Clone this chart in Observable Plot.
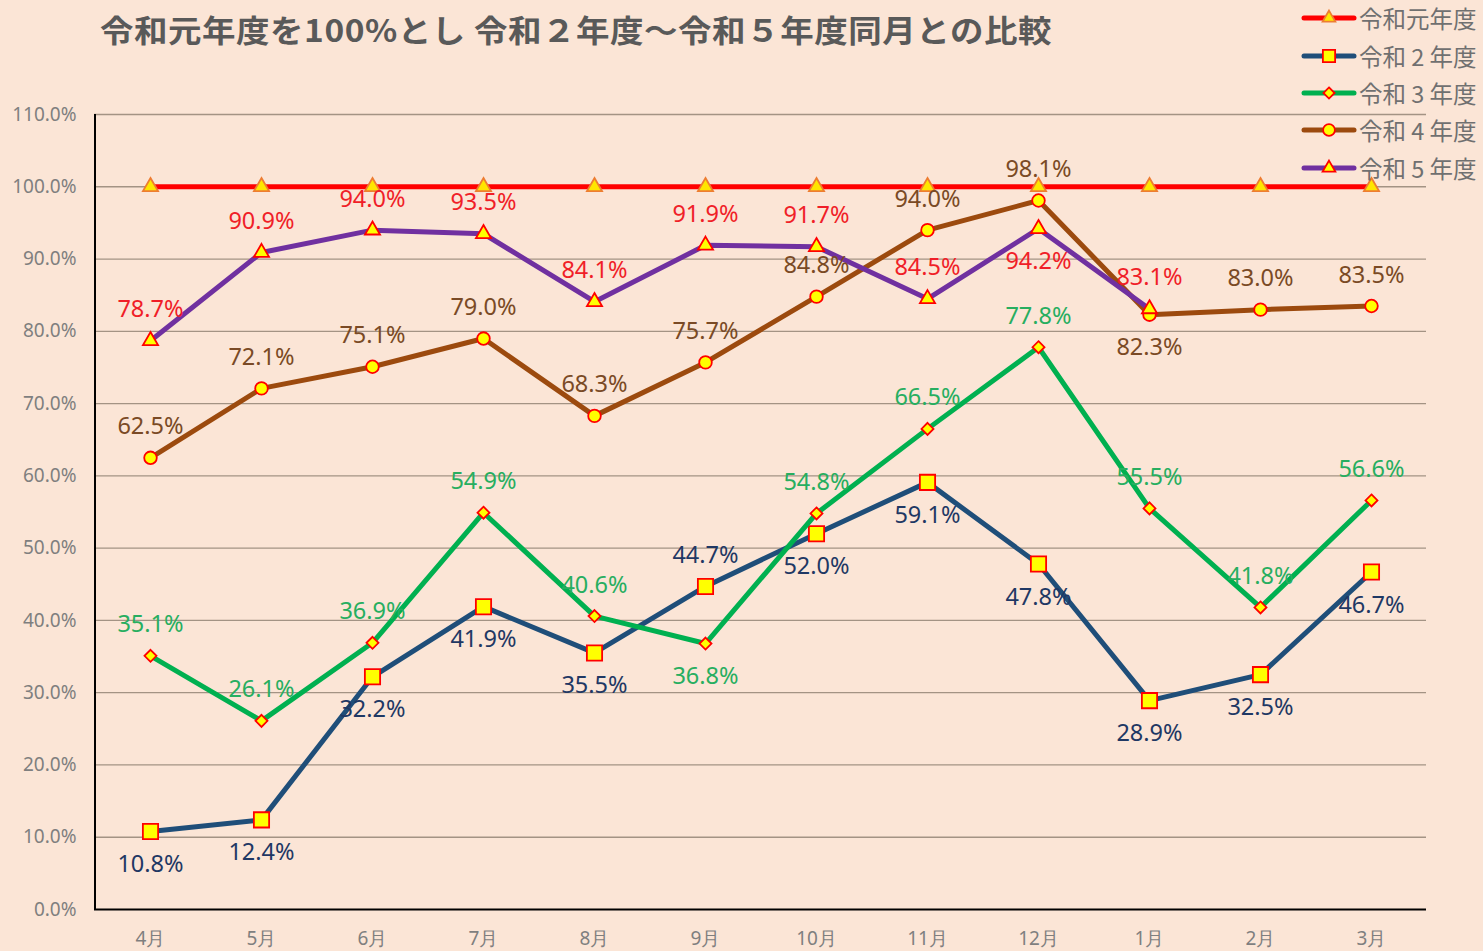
<!DOCTYPE html>
<html>
<head>
<meta charset="utf-8">
<script src="https://cdn.jsdelivr.net/npm/d3@7"></script>
<script src="https://cdn.jsdelivr.net/npm/@observablehq/plot@0.6"></script>
<style>
  html, body { margin: 0; padding: 0; background: #FBE5D6; }
  #wrap { position: relative; width: 1483px; height: 951px; overflow: hidden; }
  #chart { position: absolute; left: 0; top: 0; }
  #title { position: absolute; left: 100px; top: 6px; font-family: "Noto Sans CJK JP", sans-serif; font-weight: bold; font-size: 31px; color: #595959; white-space: pre; transform-origin: left top; transform: scaleX(1.08); letter-spacing: 0.5px; }
  #legend { position: absolute; left: 1300px; top: 0px; font-family: "Noto Sans CJK JP", "Noto Sans", sans-serif; font-size: 23.5px; color: #707070; }
  .item { position: absolute; left: 0; height: 30px; display: flex; align-items: center; white-space: pre; }
  .item svg { margin-right: 1px; }
</style>
</head>
<body>
<div id="wrap">
  <div id="chart"></div>
  <div id="title"></div>
  <div id="legend"></div>
</div>
<script>
// ---- data ----
const months = ["4月","5月","6月","7月","8月","9月","10月","11月","12月","1月","2月","3月"];
const seriesNames = ["令和元年度","令和２年度","令和３年度","令和４年度","令和５年度"];
const legendLabels = ["令和元年度","令和 2 年度","令和 3 年度","令和 4 年度","令和 5 年度"];
const r1 = [100, 100, 100, 100, 100, 100, 100, 100, 100, 100, 100, 100];
const r2 = [10.8, 12.4, 32.2, 41.9, 35.5, 44.7, 52.0, 59.1, 47.8, 28.9, 32.5, 46.7];
const r3 = [35.1, 26.1, 36.9, 54.9, 40.6, 36.8, 54.8, 66.5, 77.8, 55.5, 41.8, 56.6];
const r4 = [62.5, 72.1, 75.1, 79.0, 68.3, 75.7, 84.8, 94.0, 98.1, 82.3, 83.0, 83.5];
const r5 = [78.7, 90.9, 94.0, 93.5, 84.1, 91.9, 91.7, 84.5, 94.2, 83.1];
const yTicks = [0, 10, 20, 30, 40, 50, 60, 70, 80, 90, 100, 110];

// ---- styles ----
const styles = [
  {line: "#FF0000", symbol: "triangle", r: 5.6, mfill: "#FFE600", mstroke: "#ED7D31", label: null, labelSide: null, flip: []},
  {line: "#1F4E79", symbol: "square", r: 8.6, mfill: "#FFFF00", mstroke: "#FF0000", label: "#1F3864", labelSide: 1, flip: [5]},
  {line: "#00B050", symbol: "diamond2", r: 5.4, mfill: "#FFFF00", mstroke: "#FF0000", label: "#27AE60", labelSide: -1, flip: [5]},
  {line: "#9C4A0E", symbol: "circle", r: 6.3, mfill: "#FFFF00", mstroke: "#FF0000", label: "#7A4A25", labelSide: -1, flip: [9]},
  {line: "#7030A0", symbol: "triangle", r: 5.6, mfill: "#FFFF00", mstroke: "#FF0000", label: "#F01E28", labelSide: -1, flip: [8]}
];
const allValues = [r1, r2, r3, r4, r5];

const W = 1483, H = 951;
const mL = 94, mR = 57, mT = 114, mB = 42;
const step = (W - mL - mR) / months.length;

const marks = [];
// gridlines
marks.push(Plot.ruleY(yTicks.filter(d => d > 0), {stroke: "#A39384", strokeWidth: 1.3}));
// axis lines
marks.push(Plot.ruleY([0], {stroke: "#000", strokeWidth: 2}));
marks.push(Plot.ruleX([months[0]], {dx: -step / 2, stroke: "#000", strokeWidth: 2}));

const labelData = [];
allValues.forEach((vals, si) => {
  const st = styles[si];
  const rows = vals.map((v, i) => ({month: months[i], value: v, i}));
  marks.push(Plot.line(rows, {x: "month", y: "value", stroke: st.line, strokeWidth: 5, strokeLinejoin: "round", strokeLinecap: "round"}));
  marks.push(Plot.dot(rows, {x: "month", y: "value", symbol: () => st.symbol, r: st.r, fill: st.mfill, stroke: st.mstroke, strokeWidth: 1.8}));
  if (st.label) {
    rows.forEach(d => {
      const side = st.flip.includes(d.i) ? -st.labelSide : st.labelSide;
      labelData.push({...d, side, color: st.label});
    });
  }
});

const fmtPct = v => v.toFixed(1) + "%";
marks.push(Plot.text(labelData.filter(d => d.side < 0), {x: "month", y: "value", text: d => fmtPct(d.value), fill: d => d.color, dy: -31, fontSize: 23.5, fontFamily: "Noto Sans, sans-serif"}));
marks.push(Plot.text(labelData.filter(d => d.side > 0), {x: "month", y: "value", text: d => fmtPct(d.value), fill: d => d.color, dy: 33, fontSize: 23.5, fontFamily: "Noto Sans, sans-serif"}));

marks.push(Plot.axisY({ticks: yTicks, tickSize: 0, tickPadding: 18, tickFormat: d => d.toFixed(1) + "%", fontSize: 19, fill: "#7F7F7F"}));
marks.push(Plot.axisX({tickSize: 0, tickPadding: 22, fontSize: 19, fill: "#7F7F7F"}));

const chart = Plot.plot({
  width: W, height: H,
  marginLeft: mL, marginRight: mR, marginTop: mT, marginBottom: mB,
  style: {background: "transparent", fontFamily: "Noto Sans, sans-serif", overflow: "visible"},
  x: {type: "point", domain: months, label: null},
  y: {domain: [0, 110], label: null},
  color: {type: "identity"},
  symbol: {type: "identity"},
  marks
});
document.getElementById("chart").appendChild(chart);

document.getElementById("title").textContent = "令和元年度を100%とし 令和２年度～令和５年度同月との比較";

// legend
const legend = document.getElementById("legend");
const rowY = [3, 41, 78, 115, 153];
const symPaths = {
  triangle: d3.symbol(d3.symbolTriangle, 70)(),
  square: d3.symbol(d3.symbolSquare, 150)(),
  diamond2: d3.symbol(d3.symbolDiamond2, 80)(),
  circle: d3.symbol(d3.symbolCircle, 110)()
};
styles.forEach((st, i) => {
  const div = document.createElement("div");
  div.className = "item";
  div.style.top = rowY[i] + "px";
  div.innerHTML = `<svg width="58" height="30"><line x1="4" x2="54" y1="15" y2="15" stroke="${st.line}" stroke-width="5" stroke-linecap="round"/><path transform="translate(29,15)" d="${symPaths[st.symbol]}" fill="${st.mfill}" stroke="${st.mstroke}" stroke-width="1.8"/></svg><span>${legendLabels[i]}</span>`;
  legend.appendChild(div);
});
</script>
</body>
</html>
